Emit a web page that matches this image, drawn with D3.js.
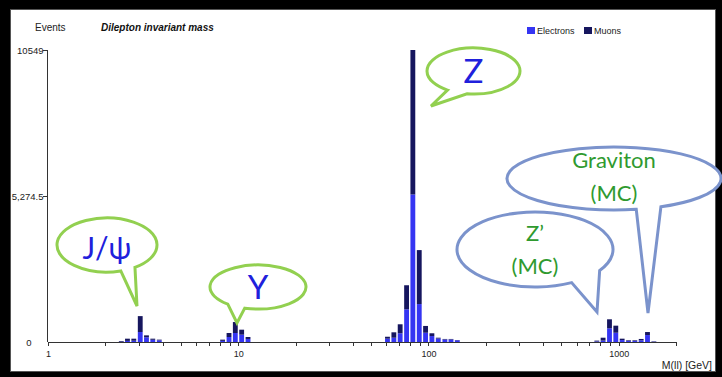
<!DOCTYPE html>
<html>
<head>
<meta charset="utf-8">
<script src="https://cdn.jsdelivr.net/npm/d3@7"></script>
<style>
  html, body { margin: 0; padding: 0; background: #000; }
  svg { display: block; }
  .axis text { font-family: "Liberation Sans", Arial, sans-serif; font-size: 9px; fill: #222; }
  .axis path, .axis line { stroke: #333; shape-rendering: crispEdges; }
  .yaxis text { font-size: 9.5px; }
</style>
</head>
<body>
<svg id="chart" width="722" height="377"></svg>
<script>
// Lower bin edges in GeV (log binning, 30 bins per decade)
const binLow = [
  2.33, 2.51, 2.71, 2.93, 3.16, 3.41, 3.69,
  7.94, 8.58, 9.26, 10.0, 10.8,
  58.4, 63.1, 68.1, 73.6, 79.4, 85.8, 92.6, 100, 108, 117, 126, 136,
  736, 794, 858, 926, 1000, 1080, 1166, 1259, 1359, 1468
];
const electrons = [
  10, 40, 45, 360, 170, 80, 60,
  40, 180, 325, 265, 110,
  120, 155, 315, 1180, 5330, 1370, 335, 215, 125, 90, 90, 60,
  20, 50, 495, 335, 70, 35, 35, 60, 250, 10
];
const muons = [
  25, 80, 75, 575, 70, 40, 25,
  45, 145, 395, 180, 70,
  70, 195, 325, 870, 5219, 1950, 245, 100, 30, 20, 20, 12,
  30, 105, 325, 255, 50, 25, 25, 50, 110, 15
];
const seriesNames = ["Electrons", "Muons"];
const yTickValues = [0, 5274.5, 10549];
const yTickLabels = ["0", "5,274.5", "10549"];
const xMajorTicks = [1, 10, 100, 1000];
const xTickLabels = ["1", "10", "100", "1000"];

const BIN_RATIO = Math.pow(10, 1 / 30);
const colors = { Electrons: "#3535f2", Muons: "#16165e" };

const svg = d3.select("#chart");

// white panel
svg.append("rect")
  .attr("x", 10.5).attr("y", 9.5).attr("width", 705).attr("height", 362)
  .attr("fill", "#fff").attr("stroke", "#555").attr("stroke-width", 1);

const x = d3.scaleLog().domain([1, 2000]).range([48, 676]);
const y = d3.scaleLinear().domain([0, 10549]).range([342, 50]);

// titles
svg.append("text").attr("x", 35).attr("y", 31)
  .style("font-family", "Liberation Sans, Arial, sans-serif").style("font-size", "10px")
  .attr("fill", "#222").text("Events");
svg.append("text").attr("x", 101).attr("y", 31)
  .style("font-family", "Liberation Sans, Arial, sans-serif").style("font-size", "10px")
  .style("font-weight", "bold").style("font-style", "italic")
  .attr("fill", "#111").text("Dilepton invariant mass");

// legend
const legend = svg.append("g");
const legendX = [527, 584];
seriesNames.forEach((name, i) => {
  legend.append("rect").attr("x", legendX[i]).attr("y", 27).attr("width", 8).attr("height", 7)
    .attr("fill", colors[name]);
  legend.append("text").attr("x", legendX[i] + 10).attr("y", 34)
    .style("font-family", "Liberation Sans, Arial, sans-serif").style("font-size", "9px")
    .attr("fill", "#222").text(name);
});

// stacked bars
const rows = binLow.map((lo, i) => ({ lo, Electrons: electrons[i], Muons: muons[i] }));
const stacked = d3.stack().keys(seriesNames)(rows);
const barGap = 1.5;
svg.append("g").selectAll("g").data(stacked).join("g")
  .attr("fill", d => colors[d.key])
  .selectAll("rect").data(d => d).join("rect")
  .attr("x", d => x(d.data.lo) + 1)
  .attr("width", d => x(d.data.lo * BIN_RATIO) - x(d.data.lo) - barGap)
  .attr("y", d => y(d[1]))
  .attr("height", d => y(d[0]) - y(d[1]));

// x axis with log minor ticks
const xTicks = [];
xMajorTicks.forEach(m => { for (let k = 1; k < 10; k++) { const v = m * k; if (v <= 2000) xTicks.push(v); } });
const xAxis = d3.axisBottom(x).tickValues(xTicks).tickSize(4).tickPadding(5)
  .tickFormat(v => { const i = xMajorTicks.indexOf(v); return i >= 0 ? xTickLabels[i] : ""; });
svg.append("g").attr("class", "axis").attr("transform", "translate(0,342)").call(xAxis)
  .call(g => g.select(".domain").attr("d", "M48,0.5H676"));

svg.append("text").attr("x", 712).attr("y", 369).attr("text-anchor", "end")
  .style("font-family", "Liberation Sans, Arial, sans-serif").style("font-size", "10.5px")
  .attr("fill", "#222").text("M(ll) [GeV]");

// y axis
const yAxis = d3.axisLeft(y).tickValues(yTickValues).tickSize(5).tickPadding(-1)
  .tickFormat((v, i) => yTickLabels[i]);
svg.append("g").attr("class", "axis yaxis").attr("transform", "translate(47.5,0)").call(yAxis)
  .call(g => g.select(".domain").attr("d", "M0,342V50"))
  .call(g => g.selectAll(".tick").filter(v => v === 0).select("text").attr("x", -16))
  .call(g => g.selectAll(".tick").filter(v => v === 0).select("line").remove());

// speech-bubble callouts
const green = "#92d050", slate = "#7b93cc";
const callouts = [
  { cx: 614, cy: 178.5, rx: 107, ry: 31.5, a1: 64, a2: 78, tip: [648, 313], stroke: slate,
    lines: ["Graviton", "(MC)"], color: "#2f9a2f", size: 22, ty: [168, 201] },
  { cx: 535, cy: 249.5, rx: 78, ry: 37.5, a1: 34, a2: 62, tip: [597, 312], stroke: slate,
    lines: ["Z’", "(MC)"], color: "#2f9a2f", size: 22, ty: [241, 274] },
  { cx: 107, cy: 245, rx: 50, ry: 27, a1: 56, a2: 74, tip: [137, 306], stroke: green,
    lines: ["J/ψ"], color: "#2020dc", size: 30, ty: [259] },
  { cx: 258, cy: 287, rx: 48, ry: 22, a1: 106, a2: 129, tip: [237, 323], stroke: green,
    lines: ["Y"], color: "#2020dc", size: 33, ty: [299] },
  { cx: 473.5, cy: 71, rx: 46.5, ry: 23, a1: 98, a2: 124, tip: [431, 106], stroke: green,
    lines: ["Z"], color: "#2020dc", size: 33, ty: [83] }
];
function bubblePath(c) {
  const p = t => [c.cx + c.rx * Math.cos(t * Math.PI / 180), c.cy + c.ry * Math.sin(t * Math.PI / 180)];
  const a = p(c.a2), b = p(c.a1);
  return `M${a}A${c.rx},${c.ry} 0 1 1 ${b}L${c.tip}Z`;
}
const cg = svg.append("g").selectAll("g").data(callouts).join("g");
cg.append("path").attr("d", bubblePath)
  .attr("fill", "#fff").attr("stroke", d => d.stroke).attr("stroke-width", 3)
  .attr("stroke-linejoin", "miter");
cg.each(function (d) {
  d.lines.forEach((t, i) => {
    d3.select(this).append("text")
      .attr("x", d.cx).attr("y", d.ty[i]).attr("text-anchor", "middle")
      .style("font-family", "Lato, 'Open Sans', sans-serif").style("font-size", d.size + "px")
      .attr("fill", d.color).text(t);
  });
});
</script>
</body>
</html>
